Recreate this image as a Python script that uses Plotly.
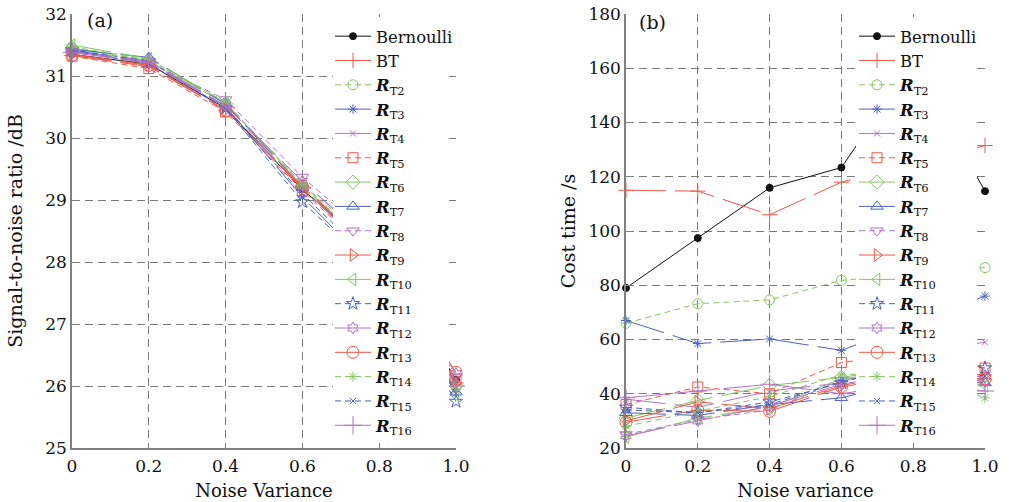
import plotly.graph_objects as go

x_vals = [0, 0.2, 0.4, 0.6, 0.8, 1.0]
x_ticks = [0, 0.2, 0.4, 0.6, 0.8, 1.0]
x_ticktext = ["0", "0.2", "0.4", "0.6", "0.8", "1.0"]

series_names = ["Bernoulli", "BT"] + ["<b><i>R</i></b><sub>T%d</sub>" % k for k in range(2, 17)]

# Panel (a): signal-to-noise ratio /dB
snr_bernoulli = [31.35, 31.19, 30.48, 29.17, 28.10, 26.10]
snr_bt = [31.33, 31.15, 30.45, 29.20, 28.10, 26.05]
snr_t2 = [31.45, 31.25, 30.55, 29.25, 28.20, 26.00]
snr_t3 = [31.42, 31.22, 30.50, 29.05, 27.80, 25.95]
snr_t4 = [31.40, 31.24, 30.52, 29.30, 28.20, 26.05]
snr_t5 = [31.32, 31.12, 30.42, 29.15, 28.00, 26.10]
snr_t6 = [31.45, 31.25, 30.55, 29.22, 28.10, 26.00]
snr_t7 = [31.43, 31.30, 30.55, 29.20, 28.00, 25.90]
snr_t8 = [31.38, 31.22, 30.62, 29.37, 28.30, 26.15]
snr_t9 = [31.35, 31.18, 30.45, 29.18, 28.10, 26.05]
snr_t10 = [31.50, 31.28, 30.57, 29.23, 28.10, 25.85]
snr_t11 = [31.42, 31.24, 30.48, 28.97, 27.80, 25.75]
snr_t12 = [31.40, 31.22, 30.52, 29.30, 28.20, 26.20]
snr_t13 = [31.33, 31.17, 30.44, 29.22, 28.10, 26.22]
snr_t14 = [31.47, 31.27, 30.58, 29.25, 28.10, 25.95]
snr_t15 = [31.40, 31.20, 30.47, 29.10, 27.90, 25.88]
snr_t16 = [31.38, 31.21, 30.50, 29.20, 28.00, 26.00]

# Panel (b): cost time /s
cost_bernoulli = [79.0, 97.4, 115.9, 123.4, 162.0, 114.7]
cost_bt = [115.0, 114.7, 106.0, 118.0, 125.0, 131.5]
cost_t2 = [66.0, 73.2, 74.6, 81.8, 84.0, 86.5]
cost_t3 = [67.0, 58.5, 60.2, 56.0, 66.0, 76.0]
cost_t4 = [38.0, 35.0, 41.0, 44.0, 55.0, 59.0]
cost_t5 = [36.0, 42.5, 40.0, 51.5, 55.0, 49.5]
cost_t6 = [31.0, 37.5, 43.0, 46.0, 50.0, 45.0]
cost_t7 = [33.0, 32.0, 36.0, 38.5, 45.0, 44.0]
cost_t8 = [25.0, 30.5, 34.0, 45.0, 50.0, 46.0]
cost_t9 = [30.0, 37.0, 34.5, 43.0, 48.0, 47.0]
cost_t10 = [24.0, 31.0, 35.0, 45.5, 48.0, 43.0]
cost_t11 = [35.0, 33.0, 37.0, 44.0, 52.0, 49.5]
cost_t12 = [24.5, 30.0, 35.5, 43.5, 48.0, 44.5]
cost_t13 = [29.5, 34.0, 33.5, 42.5, 47.0, 45.5]
cost_t14 = [28.0, 33.5, 39.0, 47.0, 48.0, 38.5]
cost_t15 = [34.0, 33.0, 36.0, 44.5, 50.0, 46.5]
cost_t16 = [38.5, 41.0, 43.5, 40.0, 44.0, 41.0]

snr_data = [snr_bernoulli, snr_bt, snr_t2, snr_t3, snr_t4, snr_t5, snr_t6, snr_t7,
            snr_t8, snr_t9, snr_t10, snr_t11, snr_t12, snr_t13, snr_t14, snr_t15, snr_t16]
cost_data = [cost_bernoulli, cost_bt, cost_t2, cost_t3, cost_t4, cost_t5, cost_t6, cost_t7,
             cost_t8, cost_t9, cost_t10, cost_t11, cost_t12, cost_t13, cost_t14, cost_t15, cost_t16]

RED = "#ee5a48"
GREEN = "#86c564"
BLUE = "#4a62c2"
PURPLE = "#b273c8"
colors = ["#111111", RED, GREEN, BLUE, PURPLE, RED, GREEN, BLUE, PURPLE,
          RED, GREEN, BLUE, PURPLE, RED, GREEN, BLUE, PURPLE]
symbols = ["circle", "cross-thin-open", "circle-open", "asterisk-open", "x-thin-open",
           "square-open", "diamond-open", "triangle-up-open", "triangle-down-open",
           "triangle-right-open", "triangle-left-open", "star-open", "hexagram-open",
           "circle-open", "asterisk-open", "x-thin-open", "cross-thin-open"]
sizes = [7, 11, 10, 8, 6, 10, 11, 11, 11, 11, 11, 10, 9, 12, 8, 6, 13]
LONG = "40px,9px"
SHORT = "6px,4px"
dashes = ["solid", LONG, SHORT, LONG, LONG, SHORT, LONG, LONG, SHORT,
          LONG, LONG, SHORT, LONG, LONG, SHORT, SHORT, LONG]

FONT = "DejaVu Serif"
fig = go.Figure()

for panel, (data, xa, ya, leg) in enumerate([(snr_data, "x", "y", "legend"),
                                              (cost_data, "x2", "y2", "legend2")]):
    for i, name in enumerate(series_names):
        fig.add_trace(go.Scatter(
            x=x_vals, y=data[i], name=name, mode="lines+markers",
            xaxis=xa, yaxis=ya, legend=leg, cliponaxis=False,
            line=dict(color=colors[i], width=1, dash=dashes[i]),
            marker=dict(symbol=symbols[i], size=sizes[i], color=colors[i],
                        line=dict(color=colors[i], width=1)),
        ))

L, R, T, B = 72, 26, 14, 54
W, H = 1011, 502
pw = W - L - R
ph = H - T - B


def px2x(px):
    return (px - L) / pw


def px2y(py):
    return 1 - (py - T) / ph


axis_common = dict(
    showline=True, linecolor="#808080", linewidth=1.5,
    showgrid=True, gridcolor="#7a7a7a", gridwidth=1, griddash="8px,5px",
    zeroline=False, ticks="inside", ticklen=5, tickcolor="#808080",
    tickfont=dict(family=FONT, size=17, color="#111"),
    mirror=False, automargin=False,
)

legend_font = dict(family=FONT, size=16.4, color="#111")
legend_common = dict(xanchor="left", yanchor="top", bgcolor="rgba(0,0,0,0)", borderwidth=0,
                     font=legend_font, maxheight=490, tracegroupgap=0, itemclick=False,
                     itemwidth=36)

# white legend boxes (hide lines/grid behind the legends, like the original)
legend_boxes = [(333, 449), (856, 977)]
shapes = [
    dict(type="rect", xref="paper", yref="paper", layer="above",
         x0=px2x(a), x1=px2x(b), y0=px2y(443), y1=px2y(17),
         fillcolor="white", line=dict(width=0))
    for a, b in legend_boxes
]

fig.update_layout(
    width=W, height=H,
    margin=dict(l=L, r=R, t=T, b=B),
    paper_bgcolor="white", plot_bgcolor="white",
    showlegend=True,
    xaxis=dict(domain=[0, px2x(456)], range=[0, 1], tickvals=x_ticks, ticktext=x_ticktext,
               ticklabelstandoff=2,
               title=dict(text="Noise Variance", font=dict(family=FONT, size=18, color="#111"), standoff=9),
               anchor="y", **axis_common),
    yaxis=dict(domain=[0, 1], range=[25, 32], dtick=1,
               title=dict(text="Signal-to-noise ratio /dB", font=dict(family=FONT, size=19, color="#111"), standoff=18),
               anchor="x", **axis_common),
    xaxis2=dict(domain=[px2x(626), 1], range=[0, 1], tickvals=x_ticks, ticktext=x_ticktext,
                ticklabelstandoff=2,
                title=dict(text="Noise variance", font=dict(family=FONT, size=18, color="#111"), standoff=9),
                anchor="y2", **axis_common),
    yaxis2=dict(domain=[0, 1], range=[20, 180], dtick=20,
                title=dict(text="Cost time /s", font=dict(family=FONT, size=19, color="#111"), standoff=8),
                anchor="x2", **axis_common),
    legend=dict(x=px2x(330), y=px2y(19), **legend_common),
    legend2=dict(x=px2x(854), y=px2y(19), **legend_common),
    shapes=shapes,
    annotations=[
        dict(text="(a)", x=0.035, y=px2y(20), xref="x domain", yref="y domain", showarrow=False,
             xanchor="left", yanchor="middle", font=dict(family=FONT, size=19, color="#111")),
        dict(text="(b)", x=0.03, y=px2y(22), xref="x2 domain", yref="y2 domain", showarrow=False,
             xanchor="left", yanchor="middle", font=dict(family=FONT, size=19, color="#111")),
    ],
)

fig.write_html("out.html")
